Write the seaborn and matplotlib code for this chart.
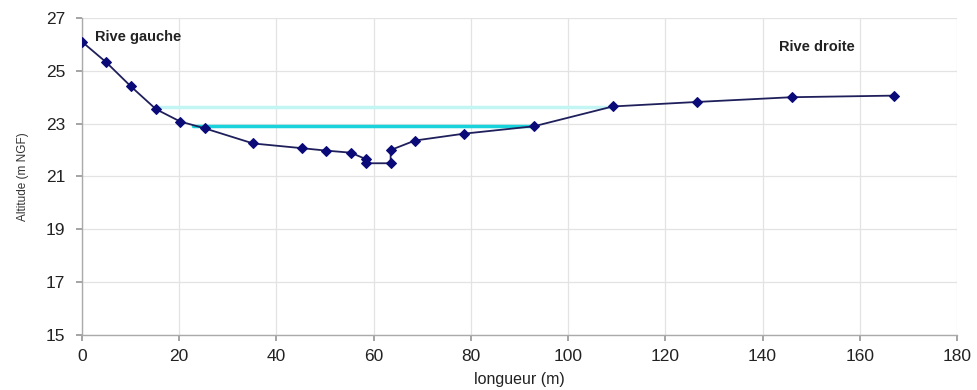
import matplotlib
matplotlib.use("Agg")
import matplotlib.pyplot as plt
import seaborn as sns
import pandas as pd

# Cross-section profile data
longueur = [0, 5, 10, 15.2, 20.2, 25.3, 35.2, 45.3, 50.2, 55.3, 58.5, 58.5, 63.5, 63.5,
            68.5, 78.6, 93, 109.2, 126.5, 146, 167]
altitude = [26.1, 25.32, 24.42, 23.55, 23.08, 22.82, 22.25, 22.07, 21.98, 21.9, 21.65, 21.5,
            21.5, 22.0, 22.36, 22.62, 22.9, 23.65, 23.82, 24.0, 24.06]

# Water levels
eau_haute_x = [15.4, 109]
eau_haute_y = [23.62, 23.62]
eau_basse_x = [22.8, 92.5]
eau_basse_y = [22.9, 22.9]

xticks = [0, 20, 40, 60, 80, 100, 120, 140, 160, 180]
yticks = [15, 17, 19, 21, 23, 25, 27]

sns.set_theme(style="whitegrid")
plt.rcParams['font.family'] = ['Liberation Sans', 'DejaVu Sans']

fig = plt.figure(figsize=(9.78, 3.9), dpi=100)
ax = fig.add_axes([0.0838, 0.141, 0.8947, 0.813])

df = pd.DataFrame({"longueur": longueur, "altitude": altitude})

ax.plot(eau_haute_x, eau_haute_y, color="#c4f5f5", lw=2.5, zorder=1)
ax.plot(eau_basse_x, eau_basse_y, color="#19d3dc", lw=2.5, zorder=2)

sns.lineplot(data=df, x="longueur", y="altitude", sort=False, estimator=None,
             color="#1f1f5c", lw=1.3, marker="D", markersize=5.5,
             markerfacecolor="#0a0a78", markeredgecolor="#0a0a78", ax=ax, zorder=3)

ax.set_xlim(0, 180)
ax.set_ylim(15, 27)
ax.set_xticks(xticks)
ax.set_yticks(yticks)
ax.tick_params(axis="both", labelsize=12.5, colors="#222222", length=4,
               direction="out", color="#999999", bottom=True, left=True)
ax.tick_params(axis="x", pad=6)
ax.tick_params(axis="y", pad=8)
ax.grid(True, color="#e3e3e3", lw=0.9)
for s in ["top", "right"]:
    ax.spines[s].set_visible(False)
for s in ["left", "bottom"]:
    ax.spines[s].set_visible(True)
    ax.spines[s].set_color("#aaaaaa")
    ax.spines[s].set_linewidth(1.0)

ax.set_xlabel("longueur (m)", fontsize=11.5, color="#222222", labelpad=6)
ax.set_ylabel("Altitude (m NGF)", fontsize=8.5, color="#333333", labelpad=12)

ax.text(2.7, 26.28, "Rive gauche", fontsize=10.5, fontweight="bold", color="#222222",
        va="center", ha="left")
ax.text(143.4, 25.9, "Rive droite", fontsize=10.5, fontweight="bold", color="#222222",
        va="center", ha="left")

fig.savefig("out.png", dpi=100)
